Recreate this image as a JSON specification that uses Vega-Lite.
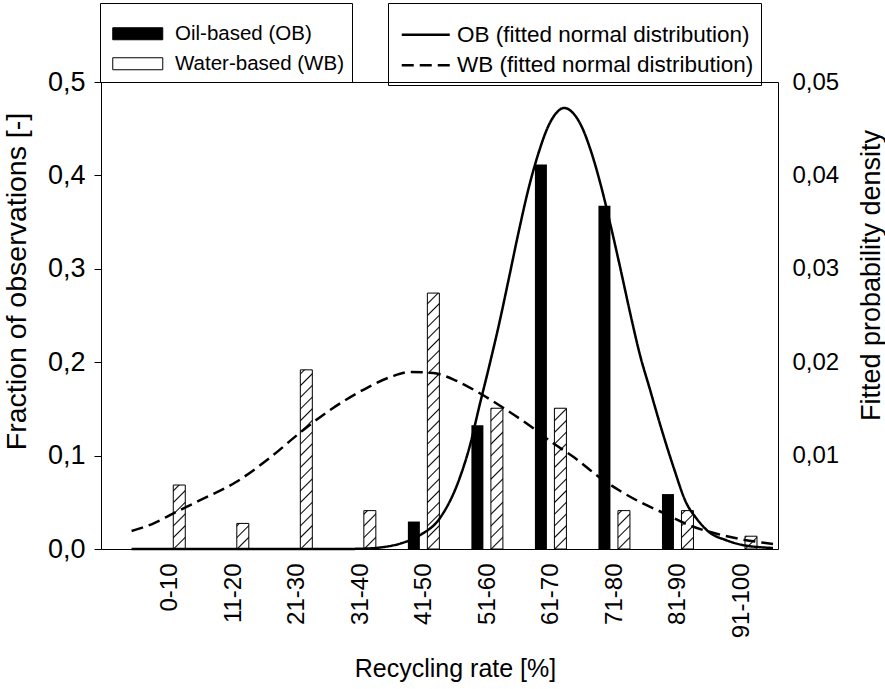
{
  "$schema": "https://vega.github.io/schema/vega-lite/v6.json",
  "autosize": {"type": "none"},
  "width": 677,
  "height": 467,
  "padding": {"left": 101, "top": 82, "right": 107, "bottom": 140},
  "background": "white",
  "config": {
    "font": "Liberation Sans",
    "view": {"stroke": "black", "strokeWidth": 1},
    "axis": {"labelColor": "black", "titleColor": "black", "titleFontWeight": "normal", "grid": false, "domain": false},
    "legend": {"labelColor": "black", "labelFont": "Liberation Sans", "labelLimit": 500}
  },
  "datasets": {
    "bars": [
      {"bin": "0-10", "mid": 5, "fluid": "OB", "fraction": 0},
      {"bin": "11-20", "mid": 15, "fluid": "OB", "fraction": 0},
      {"bin": "21-30", "mid": 25, "fluid": "OB", "fraction": 0},
      {"bin": "31-40", "mid": 35, "fluid": "OB", "fraction": 0},
      {"bin": "41-50", "mid": 45, "fluid": "OB", "fraction": 0.0294},
      {"bin": "51-60", "mid": 55, "fluid": "OB", "fraction": 0.1324},
      {"bin": "61-70", "mid": 65, "fluid": "OB", "fraction": 0.4118},
      {"bin": "71-80", "mid": 75, "fluid": "OB", "fraction": 0.3676},
      {"bin": "81-90", "mid": 85, "fluid": "OB", "fraction": 0.0588},
      {"bin": "91-100", "mid": 95, "fluid": "OB", "fraction": 0},
      {"bin": "0-10", "mid": 5, "fluid": "WB", "fraction": 0.0685},
      {"bin": "11-20", "mid": 15, "fluid": "WB", "fraction": 0.0274},
      {"bin": "21-30", "mid": 25, "fluid": "WB", "fraction": 0.1918},
      {"bin": "31-40", "mid": 35, "fluid": "WB", "fraction": 0.0411},
      {"bin": "41-50", "mid": 45, "fluid": "WB", "fraction": 0.274},
      {"bin": "51-60", "mid": 55, "fluid": "WB", "fraction": 0.1507},
      {"bin": "61-70", "mid": 65, "fluid": "WB", "fraction": 0.1507},
      {"bin": "71-80", "mid": 75, "fluid": "WB", "fraction": 0.0411},
      {"bin": "81-90", "mid": 85, "fluid": "WB", "fraction": 0.0411},
      {"bin": "91-100", "mid": 95, "fluid": "WB", "fraction": 0.0137}
    ],
    "curves": [
      {"fit": "OB (fitted normal distribution)", "rate": -0.97, "density": 0},
      {"fit": "OB (fitted normal distribution)", "rate": 10.35, "density": 0},
      {"fit": "OB (fitted normal distribution)", "rate": 22.76, "density": 0},
      {"fit": "OB (fitted normal distribution)", "rate": 32.07, "density": 0},
      {"fit": "OB (fitted normal distribution)", "rate": 35.17, "density": 0.00003},
      {"fit": "OB (fitted normal distribution)", "rate": 38.74, "density": 0.00021},
      {"fit": "OB (fitted normal distribution)", "rate": 41.37, "density": 0.00059},
      {"fit": "OB (fitted normal distribution)", "rate": 44.48, "density": 0.0015},
      {"fit": "OB (fitted normal distribution)", "rate": 47.58, "density": 0.00332},
      {"fit": "OB (fitted normal distribution)", "rate": 50.68, "density": 0.0076},
      {"fit": "OB (fitted normal distribution)", "rate": 52.23, "density": 0.01092},
      {"fit": "OB (fitted normal distribution)", "rate": 53.78, "density": 0.01531},
      {"fit": "OB (fitted normal distribution)", "rate": 55.33, "density": 0.01959},
      {"fit": "OB (fitted normal distribution)", "rate": 56.88, "density": 0.02409},
      {"fit": "OB (fitted normal distribution)", "rate": 58.43, "density": 0.02901},
      {"fit": "OB (fitted normal distribution)", "rate": 59.99, "density": 0.03405},
      {"fit": "OB (fitted normal distribution)", "rate": 61.54, "density": 0.03865},
      {"fit": "OB (fitted normal distribution)", "rate": 63.09, "density": 0.0424},
      {"fit": "OB (fitted normal distribution)", "rate": 64.64, "density": 0.04529},
      {"fit": "OB (fitted normal distribution)", "rate": 65.88, "density": 0.04668},
      {"fit": "OB (fitted normal distribution)", "rate": 67.12, "density": 0.04722},
      {"fit": "OB (fitted normal distribution)", "rate": 68.36, "density": 0.04679},
      {"fit": "OB (fitted normal distribution)", "rate": 69.91, "density": 0.04518},
      {"fit": "OB (fitted normal distribution)", "rate": 71.46, "density": 0.04235},
      {"fit": "OB (fitted normal distribution)", "rate": 73.01, "density": 0.03865},
      {"fit": "OB (fitted normal distribution)", "rate": 74.57, "density": 0.03426},
      {"fit": "OB (fitted normal distribution)", "rate": 76.12, "density": 0.02959},
      {"fit": "OB (fitted normal distribution)", "rate": 77.51, "density": 0.02527},
      {"fit": "OB (fitted normal distribution)", "rate": 79.06, "density": 0.02077},
      {"fit": "OB (fitted normal distribution)", "rate": 80.61, "density": 0.01713},
      {"fit": "OB (fitted normal distribution)", "rate": 82.16, "density": 0.01349},
      {"fit": "OB (fitted normal distribution)", "rate": 84.33, "density": 0.00878},
      {"fit": "OB (fitted normal distribution)", "rate": 86.35, "density": 0.00493},
      {"fit": "OB (fitted normal distribution)", "rate": 87.90, "density": 0.00332},
      {"fit": "OB (fitted normal distribution)", "rate": 89.91, "density": 0.00182},
      {"fit": "OB (fitted normal distribution)", "rate": 92.56, "density": 0.00096},
      {"fit": "OB (fitted normal distribution)", "rate": 95.19, "density": 0.00043},
      {"fit": "OB (fitted normal distribution)", "rate": 100, "density": 0.00011},
      {"fit": "WB (fitted normal distribution)", "rate": -0.97, "density": 0.00193},
      {"fit": "WB (fitted normal distribution)", "rate": 2.60, "density": 0.00278},
      {"fit": "WB (fitted normal distribution)", "rate": 5.70, "density": 0.00385},
      {"fit": "WB (fitted normal distribution)", "rate": 9.58, "density": 0.00514},
      {"fit": "WB (fitted normal distribution)", "rate": 15.47, "density": 0.00717},
      {"fit": "WB (fitted normal distribution)", "rate": 20.75, "density": 0.00974},
      {"fit": "WB (fitted normal distribution)", "rate": 25.86, "density": 0.01263},
      {"fit": "WB (fitted normal distribution)", "rate": 30.52, "density": 0.01499},
      {"fit": "WB (fitted normal distribution)", "rate": 35.17, "density": 0.01692},
      {"fit": "WB (fitted normal distribution)", "rate": 39.82, "density": 0.01842},
      {"fit": "WB (fitted normal distribution)", "rate": 42.92, "density": 0.01895},
      {"fit": "WB (fitted normal distribution)", "rate": 46.49, "density": 0.01884},
      {"fit": "WB (fitted normal distribution)", "rate": 50.21, "density": 0.01799},
      {"fit": "WB (fitted normal distribution)", "rate": 53.78, "density": 0.0167},
      {"fit": "WB (fitted normal distribution)", "rate": 57.35, "density": 0.0152},
      {"fit": "WB (fitted normal distribution)", "rate": 62.00, "density": 0.01306},
      {"fit": "WB (fitted normal distribution)", "rate": 65.10, "density": 0.01146},
      {"fit": "WB (fitted normal distribution)", "rate": 68.83, "density": 0.00974},
      {"fit": "WB (fitted normal distribution)", "rate": 72.39, "density": 0.00782},
      {"fit": "WB (fitted normal distribution)", "rate": 75.96, "density": 0.00621},
      {"fit": "WB (fitted normal distribution)", "rate": 79.06, "density": 0.00503},
      {"fit": "WB (fitted normal distribution)", "rate": 82.78, "density": 0.00385},
      {"fit": "WB (fitted normal distribution)", "rate": 86.35, "density": 0.00268},
      {"fit": "WB (fitted normal distribution)", "rate": 92.56, "density": 0.00139},
      {"fit": "WB (fitted normal distribution)", "rate": 100, "density": 0.00054}
    ]
  },
  "layer": [
    {
      "data": {"name": "bars"},
      "encoding": {
        "x": {
          "field": "mid",
          "type": "quantitative",
          "scale": {"domain": [-5, 100], "nice": false, "zero": false},
          "axis": {
            "values": [5, 15, 25, 35, 45, 55, 65, 75, 85, 95],
            "labelExpr": "['0-10','11-20','21-30','31-40','41-50','51-60','61-70','71-80','81-90','91-100'][round((datum.value - 5) / 10)]",
            "labelAngle": 270,
            "labelAlign": "right",
            "labelBaseline": "middle",
            "labelFontSize": 24,
            "labelPadding": 14,
            "ticks": false,
            "title": "Recycling rate [%]",
            "titleFontSize": 25,
            "titleX": 354,
            "titleY": 119,
            "titleAlign": "center",
            "titleBaseline": "middle"
          }
        }
      },
      "layer": [
        {
          "transform": [{"filter": "datum.fluid === 'WB'"}],
          "mark": {
            "type": "bar",
            "size": 12,
            "xOffset": 9.75,
            "strokeWidth": 0,
            "fill": {
              "gradient": "linear",
              "x1": 0, "y1": 0, "x2": 0.044581, "y2": 1.04097,
              "stops": [
                {"offset": 0, "color": "#ffffff"},
                {"offset": 0.035, "color": "#ffffff"}, {"offset": 0.04, "color": "#000000"}, {"offset": 0.045, "color": "#ffffff"},
                {"offset": 0.075, "color": "#ffffff"}, {"offset": 0.08, "color": "#000000"}, {"offset": 0.085, "color": "#ffffff"},
                {"offset": 0.115, "color": "#ffffff"}, {"offset": 0.12, "color": "#000000"}, {"offset": 0.125, "color": "#ffffff"},
                {"offset": 0.155, "color": "#ffffff"}, {"offset": 0.16, "color": "#000000"}, {"offset": 0.165, "color": "#ffffff"},
                {"offset": 0.195, "color": "#ffffff"}, {"offset": 0.2, "color": "#000000"}, {"offset": 0.205, "color": "#ffffff"},
                {"offset": 0.235, "color": "#ffffff"}, {"offset": 0.24, "color": "#000000"}, {"offset": 0.245, "color": "#ffffff"},
                {"offset": 0.275, "color": "#ffffff"}, {"offset": 0.28, "color": "#000000"}, {"offset": 0.285, "color": "#ffffff"},
                {"offset": 0.315, "color": "#ffffff"}, {"offset": 0.32, "color": "#000000"}, {"offset": 0.325, "color": "#ffffff"},
                {"offset": 0.355, "color": "#ffffff"}, {"offset": 0.36, "color": "#000000"}, {"offset": 0.365, "color": "#ffffff"},
                {"offset": 0.395, "color": "#ffffff"}, {"offset": 0.4, "color": "#000000"}, {"offset": 0.405, "color": "#ffffff"},
                {"offset": 0.435, "color": "#ffffff"}, {"offset": 0.44, "color": "#000000"}, {"offset": 0.445, "color": "#ffffff"},
                {"offset": 0.475, "color": "#ffffff"}, {"offset": 0.48, "color": "#000000"}, {"offset": 0.485, "color": "#ffffff"},
                {"offset": 0.515, "color": "#ffffff"}, {"offset": 0.52, "color": "#000000"}, {"offset": 0.525, "color": "#ffffff"},
                {"offset": 0.555, "color": "#ffffff"}, {"offset": 0.56, "color": "#000000"}, {"offset": 0.565, "color": "#ffffff"},
                {"offset": 0.595, "color": "#ffffff"}, {"offset": 0.6, "color": "#000000"}, {"offset": 0.605, "color": "#ffffff"},
                {"offset": 0.635, "color": "#ffffff"}, {"offset": 0.64, "color": "#000000"}, {"offset": 0.645, "color": "#ffffff"},
                {"offset": 0.675, "color": "#ffffff"}, {"offset": 0.68, "color": "#000000"}, {"offset": 0.685, "color": "#ffffff"},
                {"offset": 0.715, "color": "#ffffff"}, {"offset": 0.72, "color": "#000000"}, {"offset": 0.725, "color": "#ffffff"},
                {"offset": 0.755, "color": "#ffffff"}, {"offset": 0.76, "color": "#000000"}, {"offset": 0.765, "color": "#ffffff"},
                {"offset": 0.795, "color": "#ffffff"}, {"offset": 0.8, "color": "#000000"}, {"offset": 0.805, "color": "#ffffff"},
                {"offset": 0.835, "color": "#ffffff"}, {"offset": 0.84, "color": "#000000"}, {"offset": 0.845, "color": "#ffffff"},
                {"offset": 0.875, "color": "#ffffff"}, {"offset": 0.88, "color": "#000000"}, {"offset": 0.885, "color": "#ffffff"},
                {"offset": 0.915, "color": "#ffffff"}, {"offset": 0.92, "color": "#000000"}, {"offset": 0.925, "color": "#ffffff"},
                {"offset": 0.955, "color": "#ffffff"}, {"offset": 0.96, "color": "#000000"}, {"offset": 0.965, "color": "#ffffff"},
                {"offset": 1, "color": "#ffffff"}
              ]
            }
          },
          "encoding": {
            "y": {
              "datum": 0,
              "type": "quantitative",
              "scale": {"domain": [0, 0.5], "nice": false},
              "axis": {
                "values": [0, 0.1, 0.2, 0.3, 0.4, 0.5],
                "labelExpr": "replace(format(datum.value, '.1f'), '.', ',')",
                "labelFontSize": 27,
                "labelPadding": 9,
                "tickSize": 7,
                "tickColor": "black",
                "title": "Fraction of observations [-]",
                "titleFontSize": 28.5,
                "titleAngle": 270,
                "titleX": -85,
                "titleY": 199,
                "titleAlign": "center",
                "titleBaseline": "middle"
              }
            },
            "y2": {"datum": 0.3}
          }
        },
        {
          "transform": [{"filter": "datum.fluid === 'WB'"}],
          "mark": {"type": "bar", "size": 14, "xOffset": 9.75, "fill": "white", "strokeWidth": 0},
          "encoding": {
            "y": {"field": "fraction", "type": "quantitative", "title": "Fraction of observations [-]"},
            "y2": {"datum": 0.32}
          }
        },
        {
          "transform": [{"filter": "datum.fluid === 'WB'"}],
          "mark": {"type": "bar", "size": 12, "xOffset": 9.75, "fill": null, "fillOpacity": 0, "stroke": "black", "strokeWidth": 1},
          "encoding": {
            "y": {"field": "fraction", "type": "quantitative", "title": "Fraction of observations [-]"}
          }
        },
        {
          "transform": [{"filter": "datum.fluid === 'OB'"}],
          "mark": {"type": "bar", "size": 12, "xOffset": -9.75, "strokeWidth": 0},
          "encoding": {
            "y": {"field": "fraction", "type": "quantitative", "title": "Fraction of observations [-]"},
            "fill": {
              "field": "fluid",
              "type": "nominal",
              "scale": {"domain": ["OB", "WB"], "range": ["black", "white"]},
              "legend": {
                "orient": "none",
                "legendX": -1,
                "legendY": -79,
                "title": " ",
                "titleFontSize": 10,
                "titlePadding": 3,
                "strokeColor": "black",
                "padding": 7.5,
                "symbolType": "M-4.1667,-1H4.1667V1H-4.1667Z",
                "symbolSize": 144,
                "symbolOffset": 20,
                "symbolStrokeColor": "black",
                "symbolStrokeWidth": 1,
                "labelOffset": 27,
                "labelFontSize": 20.5,
                "rowPadding": 9,
                "labelExpr": "datum.label === 'OB' ? 'Oil-based (OB)' : 'Water-based (WB)    '"
              }
            }
          }
        }
      ]
    },
    {
      "data": {"name": "curves"},
      "mark": {"type": "line", "color": "black", "strokeWidth": 2.5, "interpolate": "monotone"},
      "encoding": {
        "x": {"field": "rate", "type": "quantitative", "scale": {"domain": [-5, 100], "nice": false, "zero": false}, "title": "Recycling rate [%]"},
        "y": {
          "field": "density",
          "type": "quantitative",
          "scale": {"domain": [0, 0.05], "nice": false},
          "axis": {
            "orient": "right",
            "values": [0.01, 0.02, 0.03, 0.04, 0.05],
            "labelExpr": "replace(format(datum.value, '.2f'), '.', ',')",
            "labelFontSize": 24,
            "labelPadding": 14,
            "ticks": false,
            "tickSize": 0,
            "title": "Fitted probability density",
            "titleFontSize": 27,
            "titleAngle": 270,
            "titleX": 93,
            "titleY": 193,
            "titleAlign": "center",
            "titleBaseline": "middle"
          }
        },
        "strokeDash": {
          "field": "fit",
          "type": "nominal",
          "scale": {"domain": ["OB (fitted normal distribution)", "WB (fitted normal distribution)"], "range": [[1, 0], [12, 6]]},
          "legend": {
            "orient": "none",
            "legendX": 287,
            "legendY": -79,
            "title": " ",
            "titleFontSize": 10,
            "titlePadding": 3,
            "strokeColor": "black",
            "padding": 7.5,
            "symbolType": "M-4,0H4",
            "symbolSize": 144,
            "symbolOffset": 19,
            "symbolStrokeWidth": 2.5,
            "symbolStrokeColor": "black",
            "labelOffset": 20,
            "labelFontSize": 22.5,
            "rowPadding": 7.5
          }
        }
      }
    }
  ],
  "resolve": {"scale": {"y": "independent"}}
}
